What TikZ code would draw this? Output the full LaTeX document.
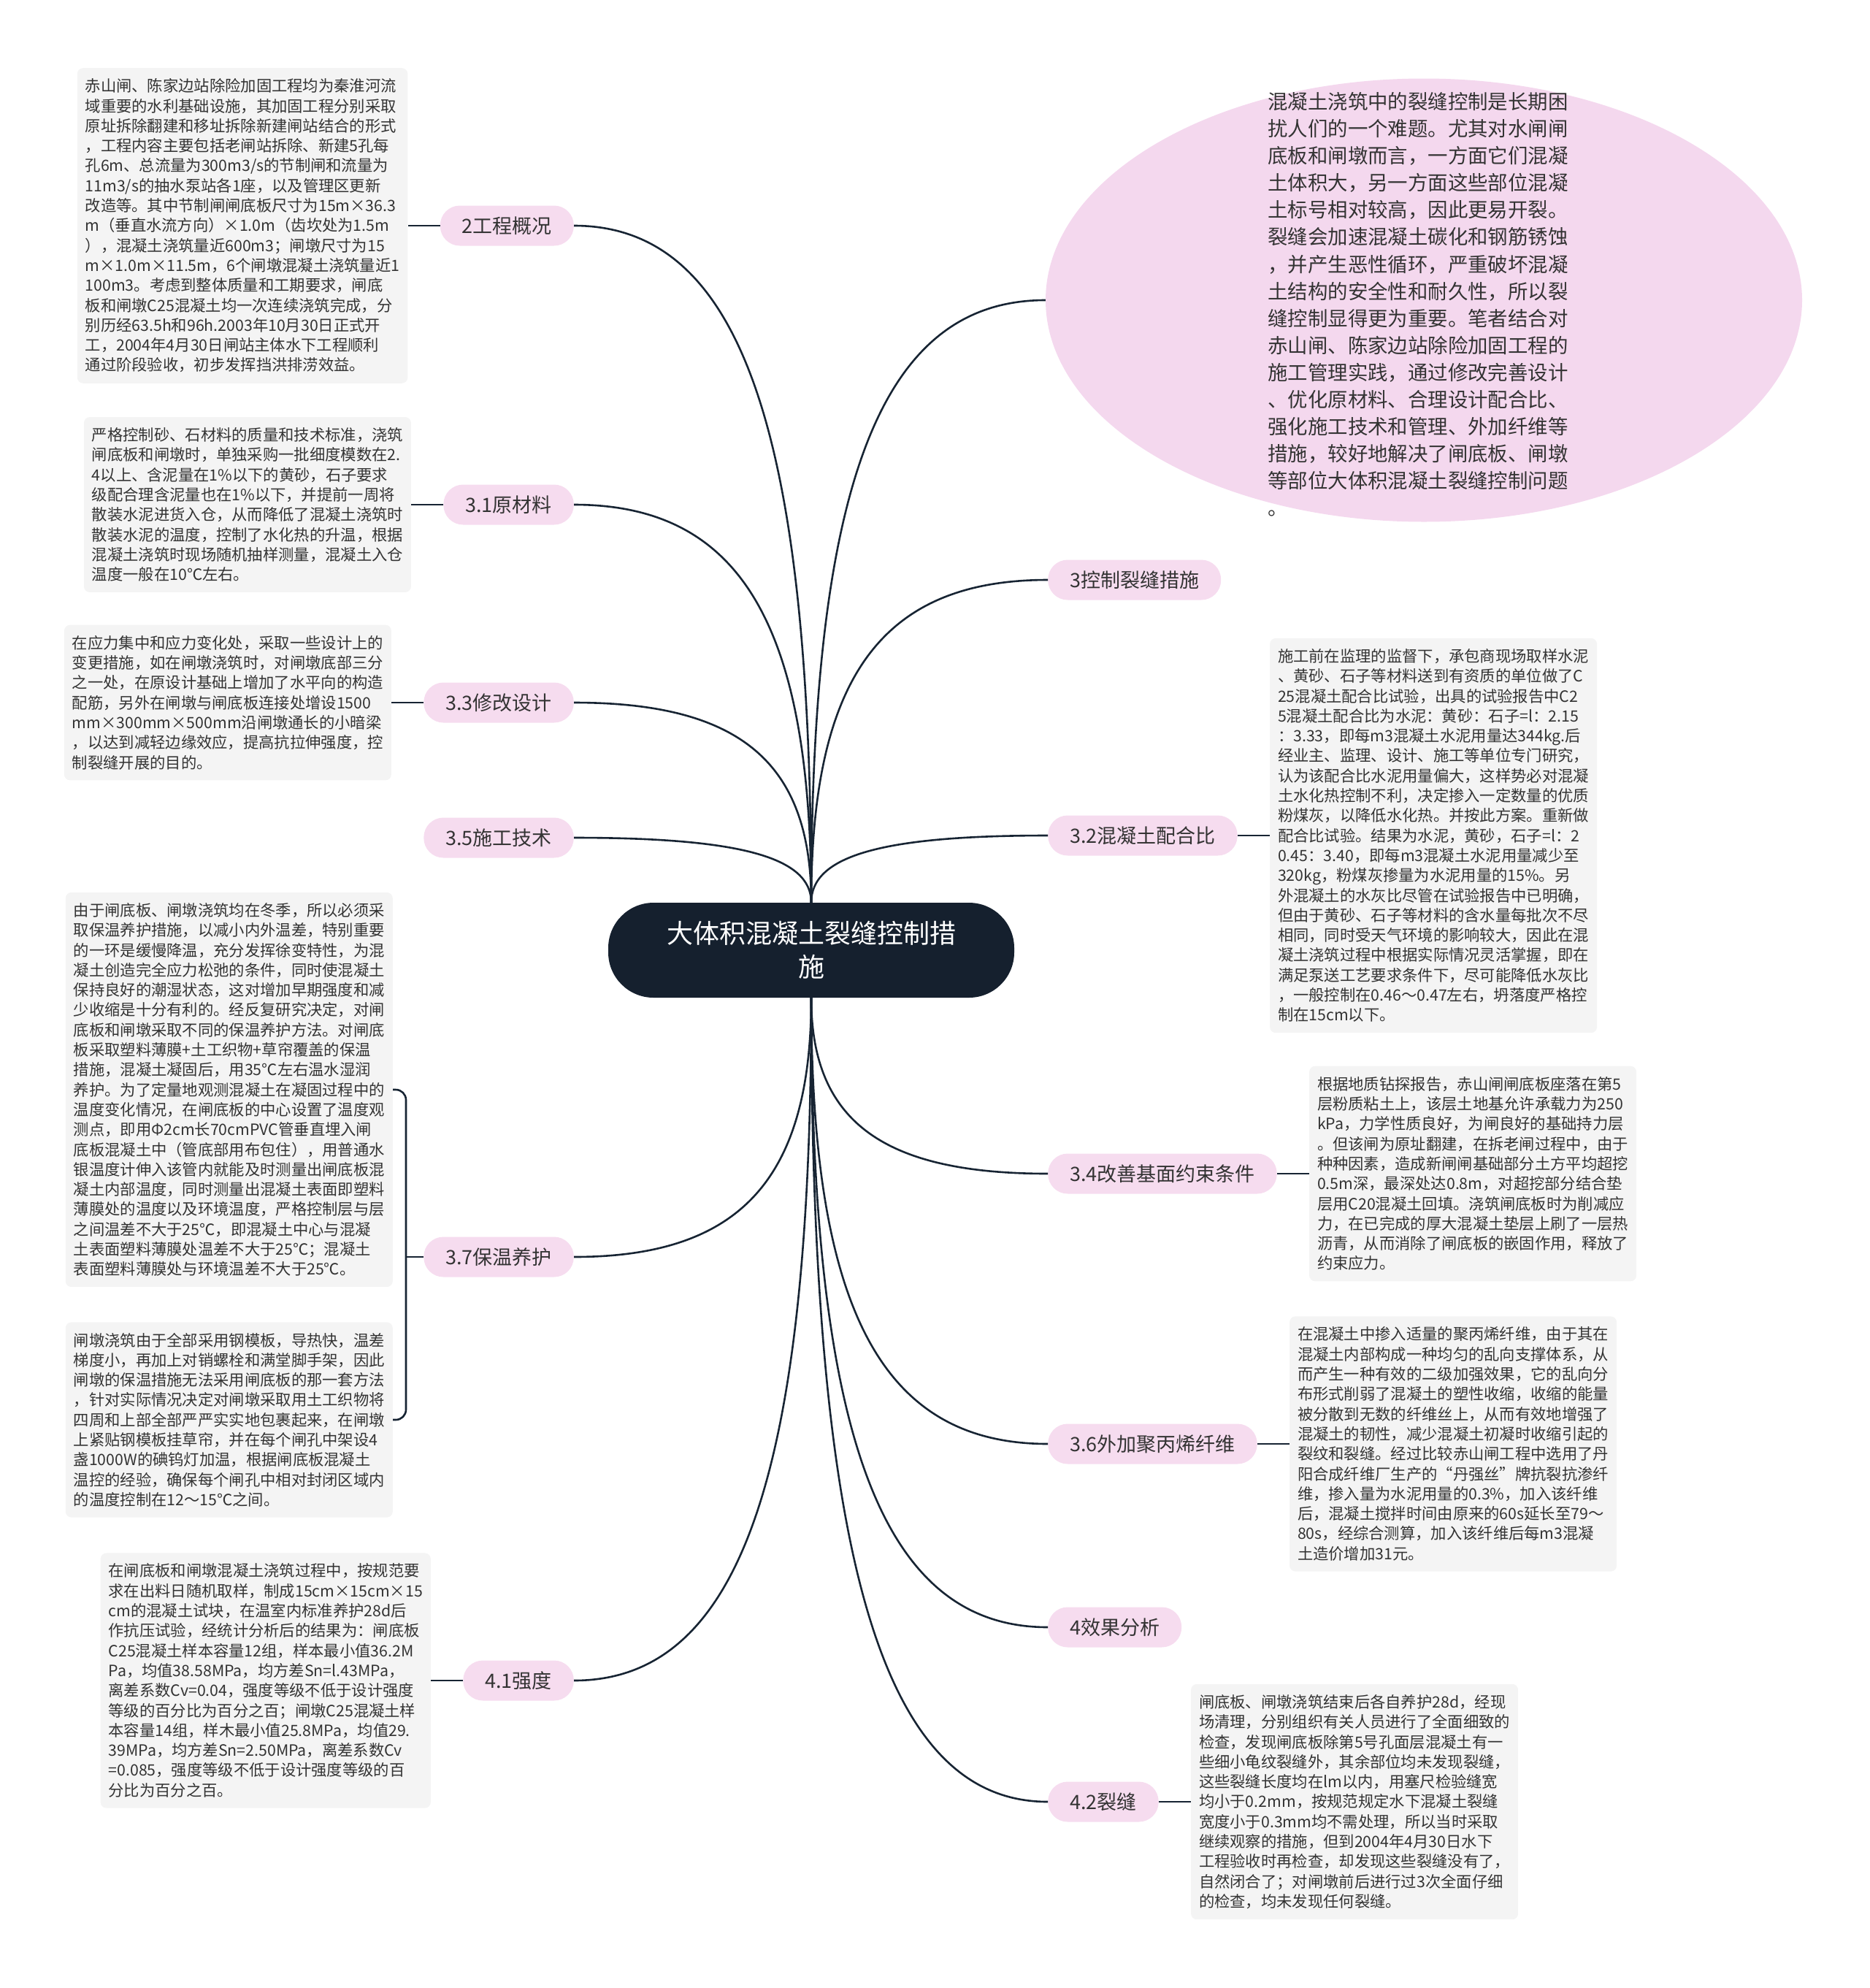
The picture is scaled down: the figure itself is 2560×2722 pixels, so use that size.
\documentclass[tikz,border=0pt]{standalone}
\usepackage{fontspec}
\setmainfont{Noto Sans CJK SC}
\usetikzlibrary{positioning,calc,shapes.geometric}
\definecolor{linkc}{HTML}{172433}
\definecolor{rootc}{HTML}{15202E}
\definecolor{pinkc}{HTML}{F6DCEF}
\definecolor{introc}{HTML}{F4D8EE}
\definecolor{notec}{HTML}{F4F4F4}
\definecolor{txtc}{HTML}{333333}
\begin{document}
\begin{tikzpicture}[
  x=1pt,y=1pt,
  root/.style={fill=rootc,text=white,rounded corners=62pt,minimum width=556pt,minimum height=130pt,align=center,font=\fontsize{36pt}{46pt}\selectfont},
  topic/.style={fill=pinkc,text=txtc,rounded corners=27pt,minimum height=55pt,inner xsep=30pt,font=\fontsize{27pt}{32pt}\selectfont},
  introbg/.style={ellipse,fill=introc,minimum width=1036pt,minimum height=607pt,inner sep=0pt},
  introtext/.style={text=txtc,inner sep=0pt,align=left,font=\fontsize{27.4pt}{37.1pt}\selectfont},
  note/.style={fill=notec,text=txtc,rounded corners=8pt,align=left,inner xsep=11pt,inner ysep=14.5pt,font=\fontsize{21.3pt}{27.3pt}\selectfont},
  branch/.style={draw=linkc,line width=2.6pt,to path={.. controls ($(\tikztostart)!.7!(\tikztostart |- \tikztotarget)$) and ($(\tikztotarget)!.7!(\tikztostart |- \tikztotarget)$) .. (\tikztotarget)}},
  stub/.style={draw=linkc,line width=2.6pt}
]
  \useasboundingbox (0,0) rectangle (2560,-2722);
  \node[root] (root) at (1111,-1301) {大体积混凝土裂缝控制措\\施};
  \node[introbg] (intro) at (1950,-411) {};
  \node[introtext] (introtxt) at (1942,-417) {混凝土浇筑中的裂缝控制是长期困\\扰人们的一个难题。尤其对水闸闸\\底板和闸墩而言，一方面它们混凝\\土体积大，另一方面这些部位混凝\\土标号相对较高，因此更易开裂。\\裂缝会加速混凝土碳化和钢筋锈蚀\\，并产生恶性循环，严重破坏混凝\\土结构的安全性和耐久性，所以裂\\缝控制显得更为重要。笔者结合对\\赤山闸、陈家边站除险加固工程的\\施工管理实践，通过修改完善设计\\、优化原材料、合理设计配合比、\\强化施工技术和管理、外加纤维等\\措施，较好地解决了闸底板、闸墩\\等部位大体积混凝土裂缝控制问题\\。};
  \node[topic,anchor=east] (gaikuang) at (786,-309) {2工程概况};
  \node[topic,anchor=east] (yuancailiao) at (786,-691) {3.1原材料};
  \node[topic,anchor=east] (sheji) at (786,-962) {3.3修改设计};
  \node[topic,anchor=east] (jishu) at (786,-1147) {3.5施工技术};
  \node[topic,anchor=east] (baowen) at (786,-1721) {3.7保温养护};
  \node[topic,anchor=east] (qiangdu) at (786,-2301) {4.1强度};
  \node[topic,anchor=west] (cuoshi) at (1435,-794) {3控制裂缝措施};
  \node[topic,anchor=west] (peihebi) at (1435,-1144) {3.2混凝土配合比};
  \node[topic,anchor=west] (jimian) at (1435,-1607) {3.4改善基面约束条件};
  \node[topic,anchor=west] (xianwei) at (1435,-1977) {3.6外加聚丙烯纤维};
  \node[topic,anchor=west] (xiaoguo) at (1435,-2228) {4效果分析};
  \node[topic,anchor=west] (liefeng) at (1435,-2467) {4.2裂缝};
  \node[note,left=44pt of gaikuang] (gaikuangtxt) {赤山闸、陈家边站除险加固工程均为秦淮河流\\域重要的水利基础设施，其加固工程分别采取\\原址拆除翻建和移址拆除新建闸站结合的形式\\，工程内容主要包括老闸站拆除、新建5孔每\\孔6m、总流量为300m3/s的节制闸和流量为\\11m3/s的抽水泵站各1座，以及管理区更新\\改造等。其中节制闸闸底板尺寸为15m×36.3\\m（垂直水流方向）×1.0m（齿坎处为1.5m\\），混凝土浇筑量近600m3；闸墩尺寸为15\\m×1.0m×11.5m，6个闸墩混凝土浇筑量近1\\100m3。考虑到整体质量和工期要求，闸底\\板和闸墩C25混凝土均一次连续浇筑完成，分\\别历经63.5h和96h.2003年10月30日正式开\\工，2004年4月30日闸站主体水下工程顺利\\通过阶段验收，初步发挥挡洪排涝效益。};
  \node[note,left=44pt of yuancailiao] (yuancailiaotxt) {严格控制砂、石材料的质量和技术标准，浇筑\\闸底板和闸墩时，单独采购一批细度模数在2.\\4以上、含泥量在1\%以下的黄砂，石子要求\\级配合理含泥量也在1\%以下，并提前一周将\\散装水泥进货入仓，从而降低了混凝土浇筑时\\散装水泥的温度，控制了水化热的升温，根据\\混凝土浇筑时现场随机抽样测量，混凝土入仓\\温度一般在10℃左右。};
  \node[note,left=44pt of sheji] (shejitxt) {在应力集中和应力变化处，采取一些设计上的\\变更措施，如在闸墩浇筑时，对闸墩底部三分\\之一处，在原设计基础上增加了水平向的构造\\配筋，另外在闸墩与闸底板连接处增设1500\\mm×300mm×500mm沿闸墩通长的小暗梁\\，以达到减轻边缘效应，提高抗拉伸强度，控\\制裂缝开展的目的。};
  \node[note,anchor=east] (baowentxt1) at (538,-1492) {由于闸底板、闸墩浇筑均在冬季，所以必须采\\取保温养护措施，以减小内外温差，特别重要\\的一环是缓慢降温，充分发挥徐变特性，为混\\凝土创造完全应力松弛的条件，同时使混凝土\\保持良好的潮湿状态，这对增加早期强度和减\\少收缩是十分有利的。经反复研究决定，对闸\\底板和闸墩采取不同的保温养护方法。对闸底\\板采取塑料薄膜+土工织物+草帘覆盖的保温\\措施，混凝土凝固后，用35℃左右温水湿润\\养护。为了定量地观测混凝土在凝固过程中的\\温度变化情况，在闸底板的中心设置了温度观\\测点，即用Φ2cm长70cmPVC管垂直埋入闸\\底板混凝土中（管底部用布包住），用普通水\\银温度计伸入该管内就能及时测量出闸底板混\\凝土内部温度，同时测量出混凝土表面即塑料\\薄膜处的温度以及环境温度，严格控制层与层\\之间温差不大于25℃，即混凝土中心与混凝\\土表面塑料薄膜处温差不大于25℃；混凝土\\表面塑料薄膜处与环境温差不大于25℃。};
  \node[note,anchor=east] (baowentxt2) at (538,-1944) {闸墩浇筑由于全部采用钢模板，导热快，温差\\梯度小，再加上对销螺栓和满堂脚手架，因此\\闸墩的保温措施无法采用闸底板的那一套方法\\，针对实际情况决定对闸墩采取用土工织物将\\四周和上部全部严严实实地包裹起来，在闸墩\\上紧贴钢模板挂草帘，并在每个闸孔中架设4\\盏1000W的碘钨灯加温，根据闸底板混凝土\\温控的经验，确保每个闸孔中相对封闭区域内\\的温度控制在12～15℃之间。};
  \node[note,left=44pt of qiangdu] (qiangdutxt) {在闸底板和闸墩混凝土浇筑过程中，按规范要\\求在出料日随机取样，制成15cm×15cm×15\\cm的混凝土试块，在温室内标准养护28d后\\作抗压试验，经统计分析后的结果为：闸底板\\C25混凝土样本容量12组，样本最小值36.2M\\Pa，均值38.58MPa，均方差Sn=l.43MPa，\\离差系数Cv=0.04，强度等级不低于设计强度\\等级的百分比为百分之百；闸墩C25混凝土样\\本容量14组，样木最小值25.8MPa，均值29.\\39MPa，均方差Sn=2.50MPa，离差系数Cv\\=0.085，强度等级不低于设计强度等级的百\\分比为百分之百。};
  \node[note,right=44pt of peihebi] (peihebitxt) {施工前在监理的监督下，承包商现场取样水泥\\、黄砂、石子等材料送到有资质的单位做了C\\25混凝土配合比试验，出具的试验报告中C2\\5混凝土配合比为水泥：黄砂：石子=l：2.15\\：3.33，即每m3混凝土水泥用量达344kg.后\\经业主、监理、设计、施工等单位专门研究，\\认为该配合比水泥用量偏大，这样势必对混凝\\土水化热控制不利，决定掺入一定数量的优质\\粉煤灰，以降低水化热。并按此方案。重新做\\配合比试验。结果为水泥，黄砂，石子=l：2\\0.45：3.40，即每m3混凝土水泥用量减少至\\320kg，粉煤灰掺量为水泥用量的15\%。另\\外混凝土的水灰比尽管在试验报告中已明确，\\但由于黄砂、石子等材料的含水量每批次不尽\\相同，同时受天气环境的影响较大，因此在混\\凝土浇筑过程中根据实际情况灵活掌握，即在\\满足泵送工艺要求条件下，尽可能降低水灰比\\，一般控制在0.46～0.47左右，坍落度严格控\\制在15cm以下。};
  \node[note,right=44pt of jimian] (jimiantxt) {根据地质钻探报告，赤山闸闸底板座落在第5\\层粉质粘土上，该层土地基允许承载力为250\\kPa，力学性质良好，为闸良好的基础持力层\\。但该闸为原址翻建，在拆老闸过程中，由于\\种种因素，造成新闸闸基础部分土方平均超挖\\0.5m深，最深处达0.8m，对超挖部分结合垫\\层用C20混凝土回填。浇筑闸底板时为削减应\\力，在已完成的厚大混凝土垫层上刷了一层热\\沥青，从而消除了闸底板的嵌固作用，释放了\\约束应力。};
  \node[note,right=44pt of xianwei] (xianweitxt) {在混凝土中掺入适量的聚丙烯纤维，由于其在\\混凝土内部构成一种均匀的乱向支撑体系，从\\而产生一种有效的二级加强效果，它的乱向分\\布形式削弱了混凝土的塑性收缩，收缩的能量\\被分散到无数的纤维丝上，从而有效地增强了\\混凝土的韧性，减少混凝土初凝时收缩引起的\\裂纹和裂缝。经过比较赤山闸工程中选用了丹\\阳合成纤维厂生产的“丹强丝”牌抗裂抗渗纤\\维，掺入量为水泥用量的0.3\%，加入该纤维\\后，混凝土搅拌时间由原来的60s延长至79～\\80s，经综合测算，加入该纤维后每m3混凝\\土造价增加31元。};
  \node[note,right=44pt of liefeng] (liefengtxt) {闸底板、闸墩浇筑结束后各自养护28d，经现\\场清理，分别组织有关人员进行了全面细致的\\检查，发现闸底板除第5号孔面层混凝土有一\\些细小龟纹裂缝外，其余部位均未发现裂缝，\\这些裂缝长度均在lm以内，用塞尺检验缝宽\\均小于0.2mm，按规范规定水下混凝土裂缝\\宽度小于0.3mm均不需处理，所以当时采取\\继续观察的措施，但到2004年4月30日水下\\工程验收时再检查，却发现这些裂缝没有了，\\自然闭合了；对闸墩前后进行过3次全面仔细\\的检查，均未发现任何裂缝。};
  \coordinate (baowenfork) at (556,-1721);
  \draw[branch] (root.north) to (gaikuang.east);
  \draw[branch] (root.north) to (yuancailiao.east);
  \draw[branch] (root.north) to (sheji.east);
  \draw[branch] (root.north) to (jishu.east);
  \draw[branch] (root.north) to (intro.west);
  \draw[branch] (root.north) to (cuoshi.west);
  \draw[branch] (root.north) to (peihebi.west);
  \draw[branch] (root.south) to (baowen.east);
  \draw[branch] (root.south) to (qiangdu.east);
  \draw[branch] (root.south) to (jimian.west);
  \draw[branch] (root.south) to (xianwei.west);
  \draw[branch] (root.south) to (xiaoguo.west);
  \draw[branch] (root.south) to (liefeng.west);
  \draw[stub] (gaikuang.west) -- (gaikuangtxt.east);
  \draw[stub] (yuancailiao.west) -- (yuancailiaotxt.east);
  \draw[stub] (sheji.west) -- (shejitxt.east);
  \draw[stub] (qiangdu.west) -- (qiangdutxt.east);
  \draw[stub] (peihebi.east) -- (peihebitxt.west);
  \draw[stub] (jimian.east) -- (jimiantxt.west);
  \draw[stub] (xianwei.east) -- (xianweitxt.west);
  \draw[stub] (liefeng.east) -- (liefengtxt.west);
  \draw[stub] (baowen.west) -- (baowenfork);
  \draw[stub,rounded corners=14pt] (baowentxt1.east) -| (baowenfork) |- (baowentxt2.east);
\end{tikzpicture}
\end{document}
